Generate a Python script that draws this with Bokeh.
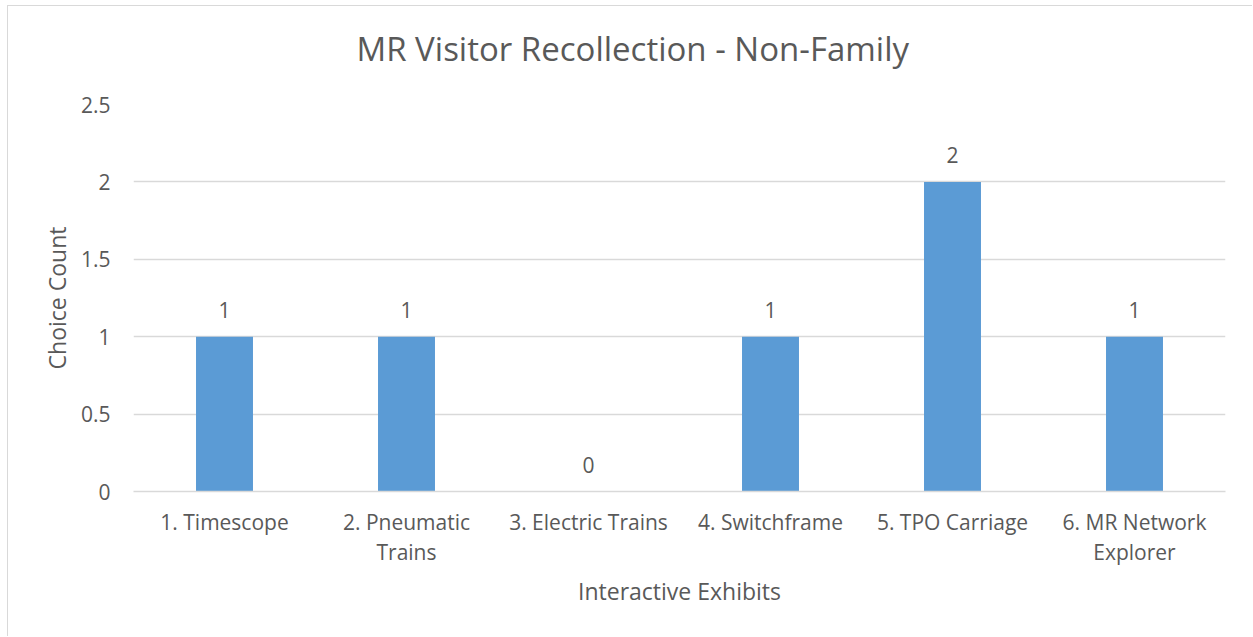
from bokeh.plotting import figure
from bokeh.models import Range1d, FixedTicker, ColumnDataSource, CategoricalAxis, CustomJSTickFormatter
from bokeh.core.properties import value
from bokeh.embed import file_html
from bokeh.resources import INLINE

categories = ["1. Timescope", "2. Pneumatic Trains", "3. Electric Trains",
              "4. Switchframe", "5. TPO Carriage", "6. MR Network Explorer"]
label_line1 = ["1. Timescope", "2. Pneumatic", "3. Electric Trains",
               "4. Switchframe", "5. TPO Carriage", "6. MR Network"]
label_line2 = ["", "Trains", "", "", "", "Explorer"]
counts = [1, 1, 0, 1, 2, 1]
y_ticks = [0, 0.5, 1, 1.5, 2, 2.5]
y_tick_labels = ["0", "0.5", "1", "1.5", "2", "2.5"]

FONT = "Open Sans"
TXT = "#595959"
GRID = "#d9d9d9"

src = ColumnDataSource(dict(x=categories, top=counts, label=[str(c) for c in counts]))

p = figure(x_range=categories, width=1245, height=631, output_backend="svg",
           toolbar_location=None, title="MR Visitor Recollection - Non-Family",
           min_border_left=125, min_border_right=28, min_border_top=98,
           min_border_bottom=146)
p.y_range = Range1d(0, 2.5)

p.vbar(x="x", top="top", width=0.313, source=src, fill_color="#5b9bd5", line_color=None)
p.text(x="x", y="top", text="label", source=src, text_align="center",
       text_baseline="bottom", y_offset=-19, text_color=TXT,
       text_font=value(FONT), text_font_size="21px")

p.title.align = "left"
p.title.offset = 223
p.title.text_font = FONT
p.title.text_font_size = "33px"
p.title.text_font_style = "normal"
p.title.text_color = TXT
p.title.standoff = 10
p.title.padding = dict(left=0, right=0, top=0, bottom=29)

p.outline_line_color = None
p.background_fill_color = "white"
p.border_fill_color = "white"

p.xgrid.grid_line_color = None
p.ygrid.grid_line_color = GRID
p.ygrid.grid_line_width = 1.5
p.ygrid.ticker = FixedTicker(ticks=y_ticks)

p.yaxis.ticker = FixedTicker(ticks=y_ticks)
p.yaxis.major_label_overrides = {float(t): l for t, l in zip(y_ticks, y_tick_labels)}
p.yaxis.axis_line_color = None
p.yaxis.major_tick_line_color = None
p.yaxis.major_tick_out = 0
p.yaxis.minor_tick_line_color = None
p.yaxis.major_label_standoff = 23
p.yaxis.axis_label = "Choice Count"
p.yaxis.axis_label_standoff = 5

fmt_code = "const i = keys.indexOf(tick); return i >= 0 ? vals[i] : tick;"

xa1 = p.xaxis[0]
xa1.formatter = CustomJSTickFormatter(args=dict(keys=categories, vals=label_line1), code=fmt_code)
xa1.axis_line_color = GRID
xa1.axis_line_width = 1.5
xa1.major_tick_line_color = None
xa1.major_tick_out = 0
xa1.minor_tick_line_color = None
xa1.major_label_standoff = 16

xa2 = CategoricalAxis(formatter=CustomJSTickFormatter(args=dict(keys=categories, vals=label_line2), code=fmt_code),
                      axis_line_color=None, major_tick_line_color=None,
                      major_tick_out=0, minor_tick_line_color=None,
                      major_label_standoff=-1, axis_label="Interactive Exhibits",
                      axis_label_standoff=6)
p.add_layout(xa2, "below")

for ax in (xa1, xa2, p.yaxis[0]):
    ax.major_label_text_font = FONT
    ax.major_label_text_font_size = "21px"
    ax.major_label_text_color = TXT
    ax.axis_label_text_font = FONT
    ax.axis_label_text_font_size = "23px"
    ax.axis_label_text_font_style = "normal"
    ax.axis_label_text_color = TXT

p.styles = {"margin-left": "7px", "margin-top": "5px",
            "border-left": "1px solid #d9d9d9", "border-top": "1px solid #d9d9d9"}

open("out.html", "w").write(file_html(p, INLINE))
